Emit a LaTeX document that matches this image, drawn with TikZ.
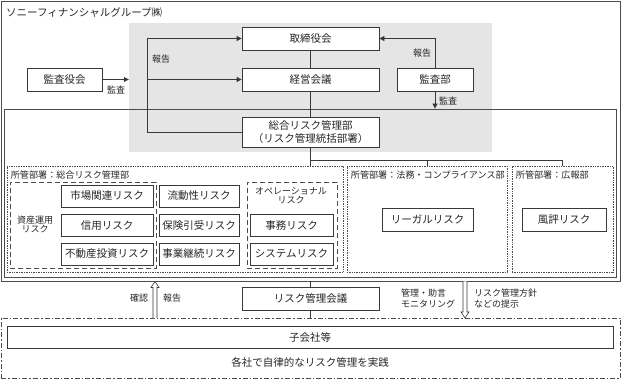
\documentclass[tikz,border=0pt]{standalone}
\usepackage{fontspec}
\setmainfont{Noto Sans CJK JP}
\usetikzlibrary{arrows.meta,calc}
\newcommand\fbig{\fontsize{10.5}{12.5}\selectfont}
\newcommand\fsml{\fontsize{9}{11}\selectfont}
\begin{document}
\begin{tikzpicture}[x=1pt,y=-1pt,
  ink/.style={draw=black!78, line width=0.8pt},
  txt/.style={text=black!85, inner sep=0pt},
  box/.style={ink, fill=white, inner sep=0pt, font=\fbig, text=black!85},
  frame/.style={draw=black!70, line width=0.8pt, inner sep=0pt},
  dotbox/.style={draw=black!70, line width=0.6pt, dash pattern=on 0.8pt off 0.9pt, inner sep=0pt},
  dashbox/.style={draw=black!70, line width=0.9pt, dash pattern=on 5pt off 3pt, inner sep=0pt},
  dashdot/.style={draw=black!70, line width=0.8pt, dash pattern=on 5pt off 2pt on 1.5pt off 2pt, inner sep=0pt},
  lbl/.style={txt, font=\fsml},
  arr/.style={ink, -{Triangle[length=5pt,width=5pt]}},
  hollow/.style={draw=black!78, line width=0.6pt, fill=white}
]
\useasboundingbox (0,0) rectangle (621,379);
% background areas
\node[fill=black!10, inner sep=0pt, minimum width=363pt, minimum height=129pt] (gray) at (310.5,87.5) {};
\node[frame, minimum width=619pt, minimum height=280pt] (outer) at (310.5,141) {};
\node[frame, minimum width=612pt, minimum height=168pt] (inner) at (310,193) {};
\node[txt, font=\fbig, anchor=west] (title) at (6,13) {ソニーフィナンシャルグループ㈱};

% top boxes
\node[box, minimum width=137pt, minimum height=23pt] (tori) at (310.5,38.5) {取締役会};
\node[box, minimum width=137pt, minimum height=23pt] (keiei) at (310.5,79.5) {経営会議};
\node[box, minimum width=137pt, minimum height=30pt, align=center] (sogo) at (310.5,132) {総合リスク管理部\\（リスク管理統括部署）};
\node[box, minimum width=75pt, minimum height=23pt] (kansayaku) at (64.5,79.5) {監査役会};
\node[box, minimum width=76pt, minimum height=23pt] (kansabu) at (435,79.5) {監査部};

% dotted department boxes
\node[dotbox, minimum width=336pt, minimum height=106pt] (box1) at (175,219) {};
\node[dotbox, minimum width=160pt, minimum height=106pt] (box2) at (427,219) {};
\node[dotbox, minimum width=101pt, minimum height=106pt] (box3) at (562.5,219) {};
\node[lbl, font=\fontsize{9.1}{11}\selectfont, anchor=west] (l1) at ($(box1.north west)+(4,9)$) {所管部署：総合リスク管理部};
\node[lbl, font=\fontsize{9.1}{11}\selectfont, anchor=west] (l2) at ($(box2.north west)+(4,9)$) {所管部署：法務・コンプライアンス部};
\node[lbl, font=\fontsize{9.1}{11}\selectfont, anchor=west] (l3) at ($(box3.north west)+(4,9)$) {所管部署：広報部};

% dashed groups
\node[dashbox, minimum width=146pt, minimum height=86pt] (g1) at (83,225) {};
\node[dashbox, minimum width=90pt, minimum height=86pt] (g2) at (292,225) {};
\node[lbl, align=center, font=\fontsize{9}{9.5}\selectfont] (g1l) at (35,224.5) {資産運用\\リスク};
\node[lbl, align=center, font=\fontsize{9}{9.5}\selectfont] (g2l) at (291,195.5) {オペレーショナル\\リスク};

% risk boxes
\node[box, minimum width=92pt, minimum height=22pt] (r11) at (107,196) {市場関連リスク};
\node[box, minimum width=92pt, minimum height=22pt] (r12) at (107,225.5) {信用リスク};
\node[box, minimum width=92pt, minimum height=22pt] (r13) at (107,254) {不動産投資リスク};
\node[box, minimum width=80pt, minimum height=22pt] (r21) at (199,196) {流動性リスク};
\node[box, minimum width=80pt, minimum height=22pt] (r22) at (199,225.5) {保険引受リスク};
\node[box, minimum width=80pt, minimum height=22pt] (r23) at (199,254) {事業継続リスク};
\node[box, minimum width=83pt, minimum height=22pt] (r32) at (291.5,225.5) {事務リスク};
\node[box, minimum width=83pt, minimum height=22pt] (r33) at (291.5,254) {システムリスク};
\node[box, minimum width=91pt, minimum height=23pt] (legal) at (427.5,219.5) {リーガルリスク};
\node[box, minimum width=84pt, minimum height=23pt] (fuhyo) at (564,219.5) {風評リスク};

% bottom
\node[box, minimum width=137pt, minimum height=23pt] (kaigi) at (310.5,298.5) {リスク管理会議};
\node[dashdot, minimum width=619pt, minimum height=60pt] (dd) at (310.5,348) {};
\node[box, minimum width=606pt, minimum height=22pt] (kogaisha) at (310,337) {子会社等};
\node[txt, font=\fbig] (jissen) at (310,362.5) {各社で自律的なリスク管理を実践};

% connectors top
\coordinate (rL) at (147,0);
\draw[arr] (sogo.west) -| (rL |- tori.west) -- (tori.west);
\draw[arr] (rL |- keiei.west) -- (keiei.west);
\draw[ink] (tori.south) -- (keiei.north);
\draw[ink] (keiei.south) -- (sogo.north);
\draw[arr] (kansabu.north) |- (tori.east);
\draw[arr] (kansabu.south) -- (kansabu.south |- inner.north);
\draw[arr] (kansayaku.east) -- (kansayaku.east -| gray.west);
\node[lbl] (hk1) at (161,59) {報告};
\node[lbl] (hk2) at (422,53) {報告};
\node[lbl] (ks1) at (116,89.5) {監査};
\node[lbl] (ks2) at (448,100.5) {監査};

% tree to departments
\coordinate (j) at (310.5,160);
\draw[ink] (sogo.south) -- (sogo.south |- box1.north);
\draw[ink] (j) -| (box2.north);
\draw[ink] (j) -| (box3.north);

% bottom connectors
\draw[ink] (kaigi.north) -- (kaigi.north |- outer.south);
\draw[ink] (kaigi.south) -- (kaigi.south |- dd.north);
\coordinate (ub) at (155,318);
\coordinate (ut) at (155,281.5);
\draw[hollow] ($(ub)+(-2,0)$) -- ($(ut)+(-2,6)$) -- ($(ut)+(-4,6)$) -- (ut) -- ($(ut)+(4,6)$) -- ($(ut)+(2,6)$) -- ($(ub)+(2,0)$);
\coordinate (dt) at (465,281.5);
\coordinate (db) at (465,318);
\draw[hollow] ($(dt)+(-2,0)$) -- ($(db)+(-2,-6)$) -- ($(db)+(-4,-6)$) -- (db) -- ($(db)+(4,-6)$) -- ($(db)+(2,-6)$) -- ($(dt)+(2,0)$);
\node[lbl] (kn) at (139,298.5) {確認};
\node[lbl] (hk3) at (172,298.5) {報告};
\node[lbl, anchor=west, align=left] (kj) at (401,298.5) {管理・助言\\モニタリング};
\node[lbl, anchor=west, align=left] (hs) at (474,298.5) {リスク管理方針\\などの提示};
\end{tikzpicture}
\end{document}
